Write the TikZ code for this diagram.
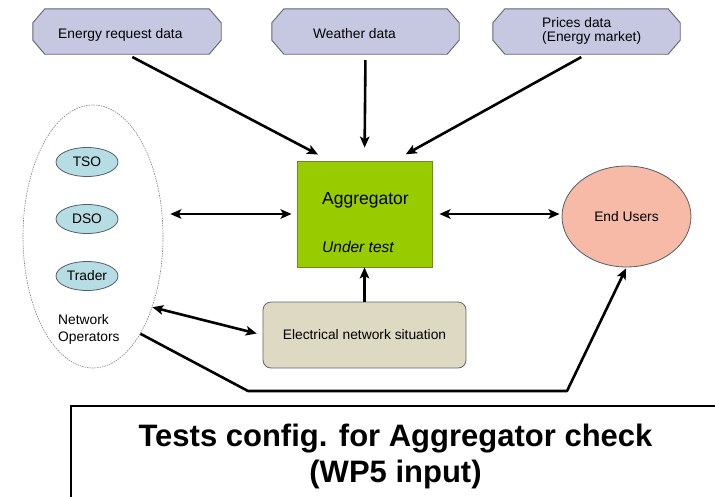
\documentclass[tikz,border=0pt]{standalone}
\usepackage{fontspec}
\setmainfont{Liberation Sans}
\usetikzlibrary{arrows.meta,backgrounds,shapes.geometric}

\definecolor{feedfill}{RGB}{198,200,226}
\definecolor{feedline}{RGB}{100,100,110}
\definecolor{aggfill}{RGB}{153,204,0}
\definecolor{aggline}{RGB}{105,140,40}
\definecolor{userfill}{RGB}{246,186,166}
\definecolor{gridfill}{RGB}{221,217,195}
\definecolor{opfill}{RGB}{183,221,228}
\definecolor{opline}{RGB}{80,95,105}

% chamfered outline drawn round an (invisible) box node
\newcommand\feedoutline[1]{%
  \filldraw[feedshape] ([xshift=12pt]#1.north west) -- ([xshift=-12pt]#1.north east)
    -- ([yshift=-14pt]#1.north east) -- ([yshift=14pt]#1.south east)
    -- ([xshift=-12pt]#1.south east) -- ([xshift=12pt]#1.south west)
    -- ([yshift=14pt]#1.south west) -- ([yshift=-14pt]#1.north west) -- cycle;}

\begin{document}
\begin{tikzpicture}[x=1pt,y=-1pt,
  smalltext/.style={font=\fontsize{13.8}{16}\selectfont},
  feedframe/.style={rectangle,inner sep=0pt,minimum width=187pt,minimum height=45pt},
  feedshape/.style={fill=feedfill,draw=feedline,line width=0.9pt},
  label/.style={smalltext,inner sep=0pt,anchor=base west},
  opnode/.style={ellipse,fill=opfill,draw=opline,line width=0.8pt,inner sep=0pt,
                 minimum width=62pt,minimum height=29pt,smalltext},
  tip/.style={Stealth[length=11pt,width=9.5pt,inset=2.5pt]},
  link/.style={line width=2.6pt,-{Stealth[length=11pt,width=9.5pt,inset=2.5pt]}},
  twoway/.style={line width=2.6pt,{Stealth[length=11pt,width=9.5pt,inset=2.5pt]}-{Stealth[length=11pt,width=9.5pt,inset=2.5pt]}},
  feedlink/.style={link,shorten <=6pt,shorten >=13pt}]
\useasboundingbox (0,0) rectangle (715,496);

% input data feeds
\node[feedframe,minimum width=188pt] (reqbox) at (127,31.5) {};
\node[feedframe] (wxbox) at (365.5,31.5) {};
\node[feedframe] (pricebox) at (586.5,31.5) {};
\feedoutline{reqbox}
\feedoutline{wxbox}
\feedoutline{pricebox}
\node[label] (reqtxt) at (58,38) {Energy request data};
\node[label] (wxtxt) at (313,38) {Weather data};
\node[label] (pricetxtA) at (542,27.5) {Prices data};
\node[label] (pricetxtB) at (542,41) {(Energy market)};

% aggregator under test
\node[rectangle,fill=aggfill,draw=aggline,line width=0.8pt,minimum width=135pt,
      minimum height=106pt,inner sep=0pt] (agg) at (364.5,214) {};
\node[inner sep=0pt,anchor=base west,font=\fontsize{17.5}{20}\selectfont] (aggname) at (322,204) {Aggregator};
\node[inner sep=0pt,anchor=base west,font=\fontsize{15.5}{18}\selectfont\itshape] (aggnote) at (322,252) {Under test};

% end users
\node[ellipse,fill=userfill,draw=opline,line width=0.8pt,inner sep=0pt,
      minimum width=129pt,minimum height=101pt,smalltext] (endu) at (626.5,216.5) {End Users};

% electrical network situation
\node[rectangle,rounded corners=8pt,fill=gridfill,draw=feedline,line width=0.8pt,
      minimum width=203pt,minimum height=66pt,inner sep=0pt,smalltext] (grid) at (364.5,335)
      {Electrical network situation};

% network operators group
\node[ellipse,draw=gray,line width=0.6pt,dash pattern=on 1.5pt off 1pt,inner sep=0pt,
      minimum width=140pt,minimum height=263pt] (netop) at (93,236.5) {};
\node[opnode] (tso) at (87,162) {TSO};
\node[opnode] (dso) at (87,219) {DSO};
\node[opnode] (trader) at (87,276) {Trader};
\node[label] (netopA) at (58,324) {Network};
\node[label] (netopB) at (58,341) {Operators};

% connectors
\draw[feedlink] (reqbox.south) -- ([xshift=33pt]agg.north west);
\draw[feedlink] (wxbox.south) -- (agg.north);
\draw[feedlink] (pricebox.south) -- ([xshift=-38pt]agg.north east);
\draw[twoway,shorten <=7pt,shorten >=5pt] (agg.west -| netop.east) -- (agg.west);
\draw[twoway,shorten <=7pt,shorten >=2pt] (agg.east) -- (agg.east -| endu.west);
\draw[link] (grid.north) -- (agg.south);
\draw[twoway,shorten >=6pt] (netop.-50) -- (grid.west);
\coordinate (bendA) at (248,391);
\coordinate (bendB) at (567,391);
\draw[link,line join=round,shorten >=1pt] (netop.-64.5) -- (bendA) -- (bendB) -- (endu.south);

% caption panel
\node[draw,line width=2pt,rectangle,anchor=north west,minimum width=660pt,
      minimum height=110pt,inner sep=0pt] (caption) at (70,405) {};
\node[inner sep=0pt,anchor=base,font=\fontsize{31}{36}\selectfont\bfseries] (capA) at (395.5,446) {Tests config. for Aggregator check};
\node[inner sep=0pt,anchor=base,font=\fontsize{31}{36}\selectfont\bfseries] (capB) at (395.5,482) {(WP5 input)};
\end{tikzpicture}
\end{document}
